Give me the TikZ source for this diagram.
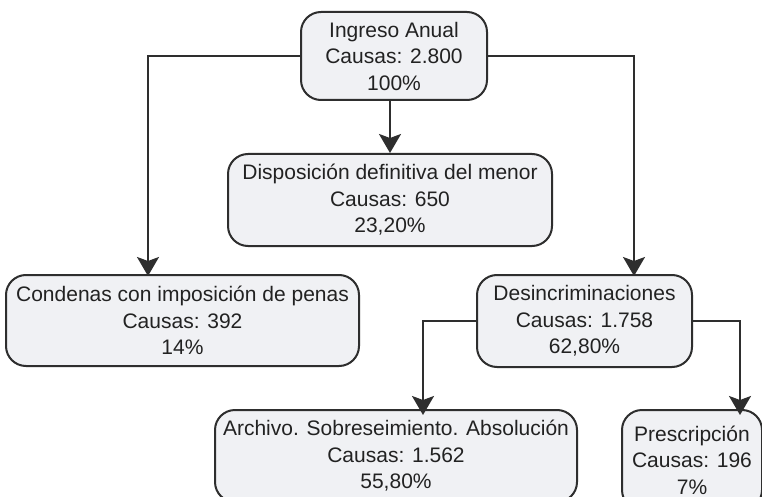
\documentclass[tikz,border=0pt]{standalone}
\usepackage{fontspec}
\setmainfont{Liberation Sans}
\usetikzlibrary{arrows.meta}
\definecolor{boxfill}{HTML}{F0F1F4}
\definecolor{ink}{HTML}{2E2E2E}
\definecolor{txt}{HTML}{222222}
\tikzset{
  box/.style={draw=ink, fill=boxfill, line width=2pt, rounded corners=20pt,
    align=center, inner sep=0pt, text=txt,
    font=\fontsize{21}{26.5}\selectfont},
  conn/.style={draw=ink, line width=2pt,
    -{Stealth[length=19pt,width=22pt,inset=4pt]}}
}
\begin{document}
\begin{tikzpicture}[x=1pt,y=-1pt]
\clip (0,0) rectangle (762,497);
\fill[white] (0,0) rectangle (762,497);
\node[box, minimum width=186pt, minimum height=88pt] (top) at (394,56)
  {Ingreso Anual\\Causas: 2.800\\100\%};
\node[box, minimum width=324pt, minimum height=92pt] (disp) at (390,200)
  {Disposición definitiva del menor\\Causas: 650\\23,20\%};
\node[box, minimum width=353pt, minimum height=91pt] (cond) at (182.5,320.5)
  {Condenas con imposición de penas\\Causas: 392\\14\%};
\node[box, minimum width=215pt, minimum height=92pt] (desin) at (584.5,321)
  {Desincriminaciones\\Causas: 1.758\\62,80\%};
\node[box, minimum width=362pt, minimum height=92pt] (arch) at (396,456)
  {Archivo. Sobreseimiento. Absolución\\Causas: 1.562\\55,80\%};
\node[box, minimum width=140pt, minimum height=100pt] (presc) at (692,460)
  {Prescripción\\Causas: 196\\7\%};
\draw[conn] (top.west) -| ([xshift=-34.5pt,yshift=-2pt]cond.north);
\draw[conn] (top.east) -| ([xshift=49.5pt,yshift=-2pt]desin.north);
\draw[conn] (top.south -| disp.north) -- (disp.north);
\draw[conn] (desin.west) -| ([xshift=27pt,yshift=-6pt]arch.north);
\draw[conn] (desin.east) -| ([xshift=48pt,yshift=-6pt]presc.north);
\end{tikzpicture}
\end{document}
